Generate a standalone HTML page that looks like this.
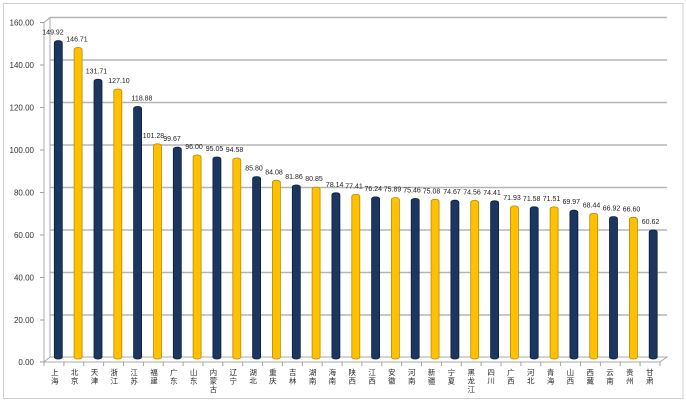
<!DOCTYPE html>
<html>
<head>
<meta charset="utf-8">
<style>
html,body{margin:0;padding:0;background:#fff;}
svg{display:block;}
.yl{font-family:"Liberation Sans",sans-serif;font-size:8px;fill:#333;text-anchor:end;}
.dl{font-family:"Liberation Sans",sans-serif;font-size:7px;fill:#222;text-anchor:middle;}
.cl{font-family:"Liberation Sans","Noto Sans CJK SC",sans-serif;font-size:7.5px;fill:#2a2a2a;text-anchor:middle;}
.n{fill:#1b365f;stroke:#0d1f3a;stroke-width:0.8;}
.y{fill:#ffc000;stroke:#b88a00;stroke-width:0.8;}
</style>
</head>
<body>
<svg width="686" height="402" viewBox="0 0 686 402" xmlns="http://www.w3.org/2000/svg">
<rect x="0" y="0" width="686" height="402" fill="#fff"/>
<rect x="3.5" y="3.5" width="679.5" height="395" fill="#fff" stroke="#cfcfcf" stroke-width="1"/>

<!-- back wall gridlines -->
<g stroke="#b5b5b5" stroke-width="1.4">
<line x1="50" y1="17.5" x2="667" y2="17.5"/>
<line x1="50" y1="60" x2="667" y2="60"/>
<line x1="50" y1="102.5" x2="667" y2="102.5"/>
<line x1="50" y1="145" x2="667" y2="145"/>
<line x1="50" y1="187.5" x2="667" y2="187.5"/>
<line x1="50" y1="230" x2="667" y2="230"/>
<line x1="50" y1="272.5" x2="667" y2="272.5"/>
<line x1="50" y1="315" x2="667" y2="315"/>
</g>
<g stroke="#a8a8a8" stroke-width="1" fill="none">
<line x1="50" y1="17.5" x2="50" y2="357"/>
<line x1="44" y1="22.5" x2="50" y2="17.5"/>
<polygon points="44,362 660,362 667,357 50,357" fill="#fff"/>
<line x1="44" y1="22.5" x2="44" y2="362"/>
</g>
<!-- y ticks -->
<g stroke="#a0a0a0" stroke-width="1">
<line x1="40" y1="22.5" x2="44" y2="22.5"/>
<line x1="40" y1="65" x2="44" y2="65"/>
<line x1="40" y1="107.5" x2="44" y2="107.5"/>
<line x1="40" y1="150" x2="44" y2="150"/>
<line x1="40" y1="192.5" x2="44" y2="192.5"/>
<line x1="40" y1="235" x2="44" y2="235"/>
<line x1="40" y1="277.5" x2="44" y2="277.5"/>
<line x1="40" y1="320" x2="44" y2="320"/>
<line x1="40" y1="362" x2="44" y2="362"/>
</g>
<!-- y labels -->
<text class="yl" x="34" y="25.5">160.00</text>
<text class="yl" x="34" y="68">140.00</text>
<text class="yl" x="34" y="110.5">120.00</text>
<text class="yl" x="34" y="153">100.00</text>
<text class="yl" x="34" y="195.5">80.00</text>
<text class="yl" x="34" y="238">60.00</text>
<text class="yl" x="34" y="280.5">40.00</text>
<text class="yl" x="34" y="323">20.00</text>
<text class="yl" x="34" y="365">0.00</text>

<!-- category ticks -->
<g stroke="#a0a0a0" stroke-width="1">
<line x1="44" y1="362" x2="44" y2="366"/><line x1="63.9" y1="362" x2="63.9" y2="366"/><line x1="83.7" y1="362" x2="83.7" y2="366"/><line x1="103.6" y1="362" x2="103.6" y2="366"/><line x1="123.5" y1="362" x2="123.5" y2="366"/><line x1="143.4" y1="362" x2="143.4" y2="366"/><line x1="163.2" y1="362" x2="163.2" y2="366"/><line x1="183.1" y1="362" x2="183.1" y2="366"/><line x1="203" y1="362" x2="203" y2="366"/><line x1="222.8" y1="362" x2="222.8" y2="366"/><line x1="242.7" y1="362" x2="242.7" y2="366"/><line x1="262.6" y1="362" x2="262.6" y2="366"/><line x1="282.4" y1="362" x2="282.4" y2="366"/><line x1="302.3" y1="362" x2="302.3" y2="366"/><line x1="322.2" y1="362" x2="322.2" y2="366"/><line x1="342.1" y1="362" x2="342.1" y2="366"/><line x1="361.9" y1="362" x2="361.9" y2="366"/><line x1="381.8" y1="362" x2="381.8" y2="366"/><line x1="401.7" y1="362" x2="401.7" y2="366"/><line x1="421.5" y1="362" x2="421.5" y2="366"/><line x1="441.4" y1="362" x2="441.4" y2="366"/><line x1="461.3" y1="362" x2="461.3" y2="366"/><line x1="481.1" y1="362" x2="481.1" y2="366"/><line x1="501" y1="362" x2="501" y2="366"/><line x1="520.9" y1="362" x2="520.9" y2="366"/><line x1="540.8" y1="362" x2="540.8" y2="366"/><line x1="560.6" y1="362" x2="560.6" y2="366"/><line x1="580.5" y1="362" x2="580.5" y2="366"/><line x1="600.4" y1="362" x2="600.4" y2="366"/><line x1="620.2" y1="362" x2="620.2" y2="366"/><line x1="640.1" y1="362" x2="640.1" y2="366"/><line x1="660" y1="362" x2="660" y2="366"/>
</g>

<!-- bars -->
<g>
<rect class="n" x="54.3" y="40.7" width="8" height="318.3" rx="3.5" ry="2"/>
<rect class="y" x="74.1" y="47.5" width="8" height="311.5" rx="3.5" ry="2"/>
<rect class="n" x="94" y="79.3" width="8" height="279.7" rx="3.5" ry="2"/>
<rect class="y" x="113.8" y="89" width="8" height="270" rx="3.5" ry="2"/>
<rect class="n" x="133.6" y="106.5" width="8" height="252.5" rx="3.5" ry="2"/>
<rect class="y" x="153.5" y="143.8" width="8" height="215.2" rx="3.5" ry="2"/>
<rect class="n" x="173.3" y="147.2" width="8" height="211.8" rx="3.5" ry="2"/>
<rect class="y" x="193.1" y="155" width="8" height="204" rx="3.5" ry="2"/>
<rect class="n" x="212.9" y="157" width="8" height="202" rx="3.5" ry="2"/>
<rect class="y" x="232.8" y="158" width="8" height="201" rx="3.5" ry="2"/>
<rect class="n" x="252.6" y="176.6" width="8" height="182.4" rx="3.5" ry="2"/>
<rect class="y" x="272.4" y="180.3" width="8" height="178.7" rx="3.5" ry="2"/>
<rect class="n" x="292.3" y="185" width="8" height="174" rx="3.5" ry="2"/>
<rect class="y" x="312.1" y="187.1" width="8" height="171.9" rx="3.5" ry="2"/>
<rect class="n" x="331.9" y="192.8" width="8" height="166.2" rx="3.5" ry="2"/>
<rect class="y" x="351.8" y="194.4" width="8" height="164.6" rx="3.5" ry="2"/>
<rect class="n" x="371.6" y="196.9" width="8" height="162.1" rx="3.5" ry="2"/>
<rect class="y" x="391.4" y="197.6" width="8" height="161.4" rx="3.5" ry="2"/>
<rect class="n" x="411.2" y="198.5" width="8" height="160.5" rx="3.5" ry="2"/>
<rect class="y" x="431.1" y="199.3" width="8" height="159.7" rx="3.5" ry="2"/>
<rect class="n" x="450.9" y="200.2" width="8" height="158.8" rx="3.5" ry="2"/>
<rect class="y" x="470.7" y="200.4" width="8" height="158.6" rx="3.5" ry="2"/>
<rect class="n" x="490.6" y="200.8" width="8" height="158.2" rx="3.5" ry="2"/>
<rect class="y" x="510.4" y="206" width="8" height="153" rx="3.5" ry="2"/>
<rect class="n" x="530.2" y="206.8" width="8" height="152.2" rx="3.5" ry="2"/>
<rect class="y" x="550.1" y="206.9" width="8" height="152.1" rx="3.5" ry="2"/>
<rect class="n" x="569.9" y="210.2" width="8" height="148.8" rx="3.5" ry="2"/>
<rect class="y" x="589.7" y="213.4" width="8" height="145.6" rx="3.5" ry="2"/>
<rect class="n" x="609.5" y="216.6" width="8" height="142.4" rx="3.5" ry="2"/>
<rect class="y" x="629.4" y="217.3" width="8" height="141.7" rx="3.5" ry="2"/>
<rect class="n" x="649.2" y="230" width="8" height="129" rx="3.5" ry="2"/>
</g>

<!-- data labels -->
<g>
<text class="dl" x="53" y="34.7">149.92</text>
<text class="dl" x="77" y="41.5">146.71</text>
<text class="dl" x="96.5" y="73.3">131.71</text>
<text class="dl" x="119" y="83">127.10</text>
<text class="dl" x="142" y="100.5">118.88</text>
<text class="dl" x="153.5" y="137.8">101.28</text>
<text class="dl" x="172" y="141.2">99.67</text>
<text class="dl" x="194" y="149">96.00</text>
<text class="dl" x="214.5" y="151">95.05</text>
<text class="dl" x="234.5" y="152">94.58</text>
<text class="dl" x="254" y="170.6">85.80</text>
<text class="dl" x="274" y="174.3">84.08</text>
<text class="dl" x="294" y="179">81.86</text>
<text class="dl" x="314" y="181.1">80.85</text>
<text class="dl" x="334.7" y="186.8">78.14</text>
<text class="dl" x="354" y="188.4">77.41</text>
<text class="dl" x="373.3" y="190.9">76.24</text>
<text class="dl" x="392.5" y="191.6">75.89</text>
<text class="dl" x="412" y="192.5">75.46</text>
<text class="dl" x="431.5" y="193.3">75.08</text>
<text class="dl" x="452" y="194.2">74.67</text>
<text class="dl" x="472" y="194.4">74.56</text>
<text class="dl" x="492" y="194.8">74.41</text>
<text class="dl" x="512" y="200">71.93</text>
<text class="dl" x="531.7" y="200.8">71.58</text>
<text class="dl" x="551.5" y="200.9">71.51</text>
<text class="dl" x="571.3" y="204.2">69.97</text>
<text class="dl" x="591.5" y="207.4">68.44</text>
<text class="dl" x="611.5" y="210.6">66.92</text>
<text class="dl" x="631.5" y="211.3">66.60</text>
<text class="dl" x="650.5" y="224">60.62</text>
</g>

<!-- category labels (vertical) -->
<g class="cl">
<text x="54.8" y="375">上</text><text x="54.8" y="383.5">海</text>
<text x="74.6" y="375">北</text><text x="74.6" y="383.5">京</text>
<text x="94.5" y="375">天</text><text x="94.5" y="383.5">津</text>
<text x="114.3" y="375">浙</text><text x="114.3" y="383.5">江</text>
<text x="134.1" y="375">江</text><text x="134.1" y="383.5">苏</text>
<text x="154" y="375">福</text><text x="154" y="383.5">建</text>
<text x="173.8" y="375">广</text><text x="173.8" y="383.5">东</text>
<text x="193.6" y="375">山</text><text x="193.6" y="383.5">东</text>
<text x="213.4" y="375">内</text><text x="213.4" y="383.5">蒙</text><text x="213.4" y="392">古</text>
<text x="233.3" y="375">辽</text><text x="233.3" y="383.5">宁</text>
<text x="253.1" y="375">湖</text><text x="253.1" y="383.5">北</text>
<text x="272.9" y="375">重</text><text x="272.9" y="383.5">庆</text>
<text x="292.8" y="375">吉</text><text x="292.8" y="383.5">林</text>
<text x="312.6" y="375">湖</text><text x="312.6" y="383.5">南</text>
<text x="332.4" y="375">海</text><text x="332.4" y="383.5">南</text>
<text x="352.3" y="375">陕</text><text x="352.3" y="383.5">西</text>
<text x="372.1" y="375">江</text><text x="372.1" y="383.5">西</text>
<text x="391.9" y="375">安</text><text x="391.9" y="383.5">徽</text>
<text x="411.7" y="375">河</text><text x="411.7" y="383.5">南</text>
<text x="431.6" y="375">新</text><text x="431.6" y="383.5">疆</text>
<text x="451.4" y="375">宁</text><text x="451.4" y="383.5">夏</text>
<text x="471.2" y="375">黑</text><text x="471.2" y="383.5">龙</text><text x="471.2" y="392">江</text>
<text x="491.1" y="375">四</text><text x="491.1" y="383.5">川</text>
<text x="510.9" y="375">广</text><text x="510.9" y="383.5">西</text>
<text x="530.7" y="375">河</text><text x="530.7" y="383.5">北</text>
<text x="550.6" y="375">青</text><text x="550.6" y="383.5">海</text>
<text x="570.4" y="375">山</text><text x="570.4" y="383.5">西</text>
<text x="590.2" y="375">西</text><text x="590.2" y="383.5">藏</text>
<text x="610" y="375">云</text><text x="610" y="383.5">南</text>
<text x="629.9" y="375">贵</text><text x="629.9" y="383.5">州</text>
<text x="649.7" y="375">甘</text><text x="649.7" y="383.5">肃</text>
</g>
</svg>
</body>
</html>
